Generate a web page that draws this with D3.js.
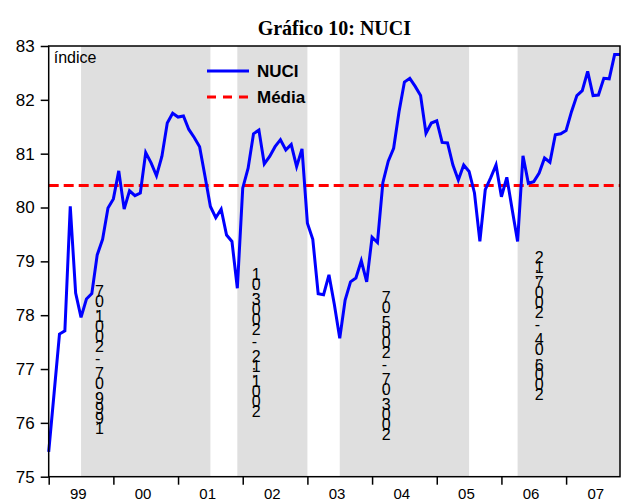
<!DOCTYPE html>
<html>
<head>
<meta charset="utf-8">
<script src="https://cdn.jsdelivr.net/npm/d3@7/dist/d3.min.js"></script>
<style>
  body { margin: 0; background: #fff; overflow: hidden; }
  text { font-family: "Liberation Sans", Arial, sans-serif; fill: #000; }
</style>
</head>
<body>
<div id="svg-area"></div>
<script>
// Gráfico 10: NUCI (monthly, 1999:01 - 2007:11)

// data
// ==============================
var firstYear = 1999;
var nuci = [
  75.46, 76.55, 77.65, 77.71, 80.02, 78.41, 77.96, 78.30, 78.40, 79.12, 79.41, 79.99,
  80.16, 80.68, 79.97, 80.31, 80.22, 80.27, 81.02, 80.83, 80.59, 80.95, 81.57, 81.75,
  81.68, 81.70, 81.45, 81.30, 81.13, 80.58, 80.02, 79.81, 79.97, 79.49, 79.37, 78.50,
  80.36, 80.73, 81.37, 81.44, 80.81, 80.95, 81.13, 81.26, 81.07, 81.17, 80.76, 81.09,
  79.71, 79.41, 78.40, 78.38, 78.75, 78.20, 77.57, 78.28, 78.62, 78.69, 79.01, 78.62,
  79.45, 79.35, 80.46, 80.86, 81.10, 81.78, 82.33, 82.40, 82.25, 82.08, 81.38, 81.57,
  81.61, 81.21, 81.20, 80.79, 80.51, 80.79, 80.67, 80.27, 79.37, 80.33, 80.55, 80.79,
  80.20, 80.56, 79.96, 79.37, 80.96, 80.45, 80.48, 80.64, 80.92, 80.84, 81.35, 81.37,
  81.43, 81.78, 82.08, 82.17, 82.53, 82.08, 82.09, 82.40, 82.39, 82.84, 82.84
];
var media = 80.41;

// shaded periods
var periodStart = ["1999:07", "2001:12", "2003:07", "2006:04"];
var periodEnd = ["2001:07", "2003:01", "2005:07", "2007:12"];

// axis labels
var yTicks = [75, 76, 77, 78, 79, 80, 81, 82, 83];
var yearLabels = ["99", "00", "01", "02", "03", "04", "05", "06", "07"];

// where the vertical period notes sit (month index, index value)
var noteAt = [[8.6, 75.79], [37.66, 76.11], [61.8, 75.68], [90.2, 76.42]];

// svg container
// ==============================
var svgWidth = 621;
var svgHeight = 501;

var plot = { left: 48.7, right: 620, top: 46, bottom: 476.7 };

var svg = d3.select("#svg-area").append("svg")
  .attr("width", svgWidth)
  .attr("height", svgHeight);

// month "YYYY:MM" -> index from 1999:01
function monthIndex(s) {
  var p = s.split(":");
  return (+p[0] - firstYear) * 12 + (+p[1] - 1);
}

// scales
// ==============================
var x = d3.scaleLinear()
  .domain([0, nuci.length - 1])
  .range([plot.left, plot.right]);

var y = d3.scaleLinear()
  .domain([75, 83])
  .range([plot.bottom, plot.top]);

svg.append("clipPath").attr("id", "plotclip")
  .append("rect")
  .attr("x", plot.left).attr("y", plot.top)
  .attr("width", plot.right - plot.left)
  .attr("height", plot.bottom - plot.top);

// shaded bands
// ==============================
var bands = periodStart.map(function(s, i) {
  return { start: monthIndex(s), end: monthIndex(periodEnd[i]), label: s + " - " + periodEnd[i] };
});

svg.append("g").attr("clip-path", "url(#plotclip)")
  .selectAll("rect")
  .data(bands)
  .enter()
  .append("rect")
  .attr("x", d => x(d.start))
  .attr("width", d => x(d.end) - x(d.start))
  .attr("y", plot.top)
  .attr("height", plot.bottom - plot.top)
  .attr("fill", "#dfdfdf");

// vertical notes, glyphs upright, stacked bottom to top
svg.selectAll(".note")
  .data(bands)
  .enter()
  .append("text")
  .attr("class", "note")
  .attr("transform", (d, i) => `translate(${x(noteAt[i][0])},${y(noteAt[i][1])}) rotate(-90)`)
  .attr("rotate", 90)
  .style("font-size", "16px")
  .style("letter-spacing", "1px")
  .text(d => d.label);

// lines
// ==============================
svg.append("line")
  .attr("x1", plot.left).attr("x2", plot.right)
  .attr("y1", y(media)).attr("y2", y(media))
  .attr("stroke", "#ff0000")
  .attr("stroke-width", 3)
  .attr("stroke-dasharray", "10,5");

var line = d3.line()
  .x((d, i) => x(i))
  .y(d => y(d));

svg.append("path")
  .datum(nuci)
  .attr("d", line)
  .attr("fill", "none")
  .attr("stroke", "#0000ff")
  .attr("stroke-width", 3)
  .attr("stroke-linejoin", "miter");

// frame and axes
// ==============================
svg.append("rect")
  .attr("x", plot.left).attr("y", plot.top)
  .attr("width", plot.right - plot.left)
  .attr("height", plot.bottom - plot.top)
  .attr("fill", "none")
  .attr("stroke", "#000")
  .attr("stroke-width", 1.5);

var leftAxis = d3.axisLeft(y)
  .tickValues(yTicks)
  .tickSize(8)
  .tickPadding(6);

svg.append("g")
  .attr("transform", `translate(${plot.left},0)`)
  .call(leftAxis)
  .call(g => g.select(".domain").remove())
  .call(g => g.selectAll("line").attr("stroke-width", 1.5))
  .call(g => g.selectAll("text")
    .style("font-size", "17px")
    .style("font-family", "Liberation Sans, Arial, sans-serif"));

var yearStarts = yearLabels.map((l, i) => i * 12);

var bottomAxis = d3.axisBottom(x)
  .tickValues(yearStarts)
  .tickSize(8)
  .tickFormat("");

svg.append("g")
  .attr("transform", `translate(0,${plot.bottom})`)
  .call(bottomAxis)
  .call(g => g.select(".domain").remove())
  .call(g => g.selectAll("line").attr("stroke-width", 1.5));

// year labels sit low, just under the ticks
svg.selectAll(".yearLabel")
  .data(yearLabels)
  .enter()
  .append("text")
  .attr("class", "yearLabel")
  .attr("x", (d, i) => x(i * 12 + 5.5))
  .attr("y", 499)
  .attr("text-anchor", "middle")
  .style("font-size", "15px")
  .text(d => d);

// labels
// ==============================
svg.append("text")
  .attr("x", plot.left + 5)
  .attr("y", 63)
  .style("font-size", "16px")
  .text("índice");

svg.append("text")
  .attr("x", (plot.left + plot.right) / 2)
  .attr("y", 35)
  .attr("text-anchor", "middle")
  .style("font-family", "Liberation Serif, Times New Roman, serif")
  .style("font-weight", "bold")
  .style("font-size", "20px")
  .text("Gráfico 10: NUCI");

// legend
// ==============================
var legend = [
  { name: "NUCI", color: "#0000ff", dash: null },
  { name: "Média", color: "#ff0000", dash: "9,7" }
];

var lg = svg.append("g");
legend.forEach(function(d, i) {
  var ly = 71 + i * 26;
  lg.append("line")
    .attr("x1", 207).attr("x2", 249)
    .attr("y1", ly).attr("y2", ly)
    .attr("stroke", d.color)
    .attr("stroke-width", 3)
    .attr("stroke-dasharray", d.dash);
  lg.append("text")
    .attr("x", 257)
    .attr("y", ly + 6)
    .style("font-size", "17px")
    .style("font-weight", "bold")
    .text(d.name);
});
</script>
</body>
</html>
